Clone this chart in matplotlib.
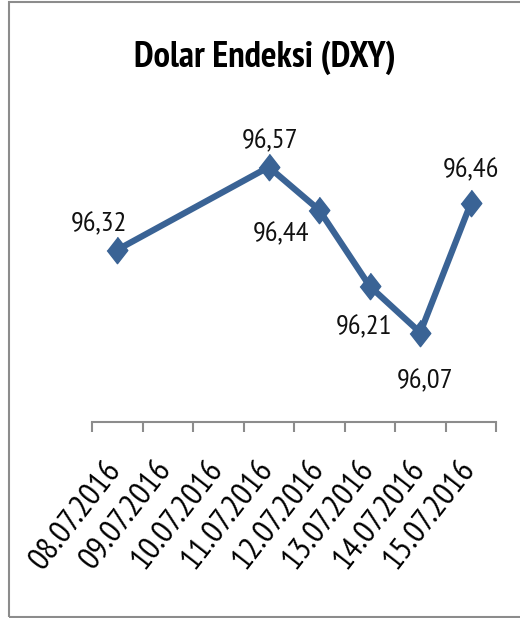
import matplotlib
matplotlib.use("Agg")
import matplotlib.pyplot as plt
from matplotlib.patches import Rectangle
from matplotlib.transforms import ScaledTranslation

# dates on the category axis (weekend days have no value)
dates = ["08.07.2016", "09.07.2016", "10.07.2016", "11.07.2016",
         "12.07.2016", "13.07.2016", "14.07.2016", "15.07.2016"]
point_idx = [0, 3, 4, 5, 6, 7]
dxy = [96.32, 96.57, 96.44, 96.21, 96.07, 96.46]
labels = ["96,32", "96,57", "96,44", "96,21", "96,07", "96,46"]

# where each data label sits relative to its point (pixels)
label_offsets = [(-18, 26), (1, 26), (-38, -24), (-6, -41), (5, -49), (0, 33)]

plt.rcParams['font.family'] = ['PT Sans Narrow', 'DejaVu Sans']

fig = plt.figure(figsize=(5.2, 6.18), dpi=100)
ax = fig.add_axes([92 / 520, 1 - 422 / 618, 404 / 520, 298 / 618])

# outer chart frame
fig.patches.append(Rectangle((8.5 / 520, 1.5 / 618), 1.0, 615 / 618,
                             transform=fig.transFigure, fill=False,
                             edgecolor="#8c8c8c", linewidth=1.5))

line_color = "#3A6395"
diamond = [(0, 1), (0.78, 0), (0, -1), (-0.78, 0)]
ax.plot(point_idx, dxy, color=line_color, linewidth=4.5,
        marker=diamond, markersize=19, markerfacecolor=line_color,
        markeredgecolor=line_color, solid_joinstyle="round")

for x, y, txt, off in zip(point_idx, dxy, labels, label_offsets):
    ax.annotate(txt, (x, y), xytext=off, textcoords="offset pixels",
                ha="center", va="center", fontsize=20.5, color="#111111")

ax.set_xlim(-0.5, len(dates) - 0.5)
ax.set_ylim(95.8, 96.7)

# tick marks on category boundaries, labels at category centres
ax.set_xticks([i - 0.5 for i in range(len(dates) + 1)])
ax.set_xticklabels([])
ax.set_xticks(range(len(dates)), minor=True)
ax.set_xticklabels(dates, minor=True, rotation=52, ha="right", va="baseline",
                   rotation_mode="anchor", fontsize=24)
ax.tick_params(axis="x", which="major", length=7, width=1.5, color="#8c8c8c",
               direction="out")
ax.tick_params(axis="x", which="minor", length=0, pad=34)
shift = ScaledTranslation(5 / 100, 0, fig.dpi_scale_trans)
for lab in ax.get_xticklabels(minor=True):
    lab.set_transform(lab.get_transform() + shift)

ax.set_yticks([])
for side in ["left", "right", "top"]:
    ax.spines[side].set_visible(False)
ax.spines["bottom"].set_color("#8c8c8c")
ax.spines["bottom"].set_linewidth(1.5)

fig.text(0.51, 1 - 58 / 618, "Dolar Endeksi (DXY)", ha="center", va="center",
         fontsize=26.5, fontweight="bold")

fig.savefig("out.png", dpi=100)
